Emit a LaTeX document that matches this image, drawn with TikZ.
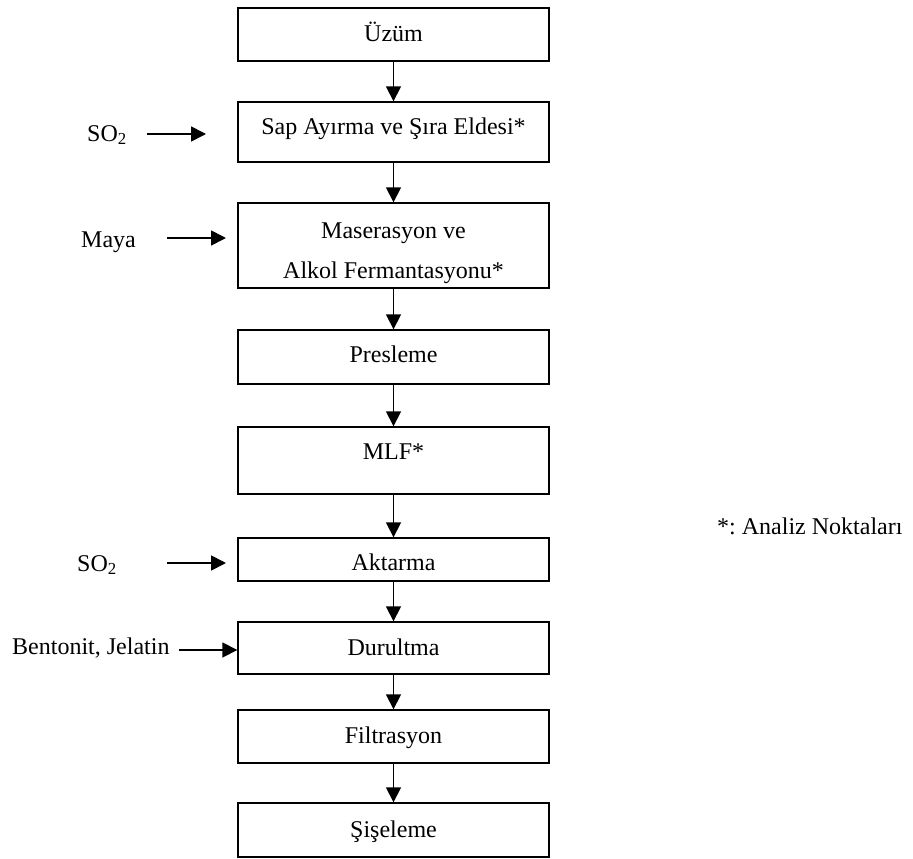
\documentclass[tikz,border=0pt]{standalone}
\usepackage{fontspec}
\setmainfont{Liberation Serif}
\usetikzlibrary{arrows.meta}
\frenchspacing
\begin{document}
\begin{tikzpicture}[x=1pt,y=-1pt,
  box/.style={draw, line width=1.4pt, minimum width=311pt, inner sep=0pt,
    font=\fontsize{24}{29}\selectfont, text height=17pt},
  side/.style={inner sep=0pt, anchor=west, font=\fontsize{24}{29}\selectfont,
    text height=17pt, text depth=5pt},
  arr/.style={line width=1.7pt, -{Triangle[width=15pt,length=15pt]}}
]
\useasboundingbox (0,0) rectangle (913,859);
% process boxes
\node[box, minimum height=53pt, text depth=3.1pt]  (uzum) at (393.5,34.5)  {Üzüm};
\node[box, minimum height=60pt, text depth=11.1pt] (sap)  at (393.5,132)   {Sap Ayırma ve Şıra Eldesi*};
\node[box, minimum height=85pt, text height=, align=center,
      font=\fontsize{24}{40.7}\selectfont] (mas) at (393.5,245.5)
      {\rule{0pt}{31pt}Maserasyon ve\\Alkol Fermantasyonu*};
\node[box, minimum height=54pt, text depth=5.1pt]  (pres) at (393.5,357)   {Presleme};
\node[box, minimum height=67pt, text depth=19.1pt] (mlf)  at (393.5,460.5) {MLF*};
\node[box, minimum height=43pt, text height=22pt, text depth=0.1pt] (akt) at (393.5,559.5) {Aktarma};
\node[box, minimum height=52pt, text depth=1.1pt]  (dur)  at (393.5,648)   {Durultma};
\node[box, minimum height=53pt, text depth=2.1pt]  (fil)  at (393.5,736.5) {Filtrasyon};
\node[box, minimum height=54pt, text depth=2.5pt]  (sis)  at (393.5,830)   {Şişeleme};
% main flow
\draw[arr] (uzum) -- (sap);
\draw[arr] (sap) -- (mas);
\draw[arr] (mas) -- (pres);
\draw[arr] (pres) -- (mlf);
\draw[arr] (mlf) -- (akt);
\draw[arr] (akt) -- (dur);
\draw[arr] (dur) -- (fil);
\draw[arr] (fil) -- (sis);
% side inputs
\node[side] (so2a) at (87,135)  {SO\textsubscript{2}};
\node[side] (maya) at (81,241)  {Maya};
\node[side] (so2b) at (77,565)  {SO\textsubscript{2}};
\node[side] (bent) at (12,648.7) {Bentonit, Jelatin};
\coordinate (so2aS) at (147,134);
\coordinate (so2aE) at (206,134);
\coordinate (mayaS) at (167,238);
\coordinate (mayaE) at (226,238);
\coordinate (so2bS) at (167,563);
\coordinate (so2bE) at (226,563);
\coordinate (bentS) at (179,650);
\draw[arr] (so2aS) -- (so2aE);
\draw[arr] (mayaS) -- (mayaE);
\draw[arr] (so2bS) -- (so2bE);
\draw[arr] (bentS) -- (bentS -| dur.west);
% legend
\node[side] (leg) at (717,528.5) {*: Analiz Noktaları};
\end{tikzpicture}
\end{document}
